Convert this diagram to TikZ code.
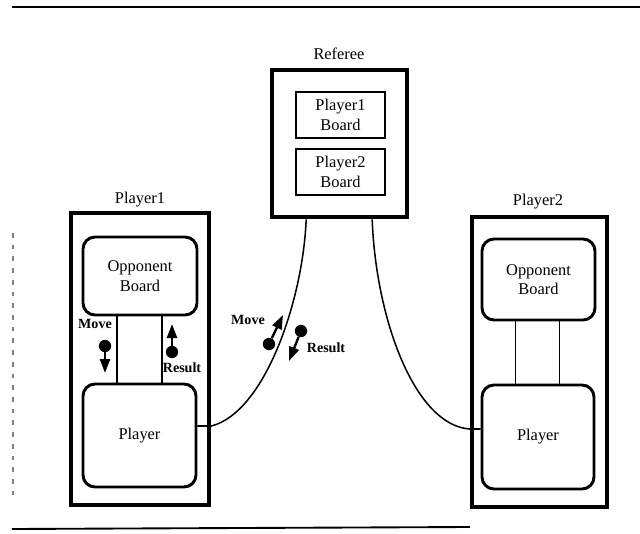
\documentclass[tikz,border=0pt]{standalone}
\usepackage{fontspec}
\setmainfont{Liberation Serif}
\usetikzlibrary{arrows.meta,positioning}

\begin{document}
\begin{tikzpicture}[
    x=0.03cm, y=-0.03cm,
    every node/.style={font=\fontsize{14}{16.5}\selectfont, inner sep=0pt, align=center},
    agent/.style={draw, line width=4.2pt, rectangle},
    board/.style={draw, line width=1.8pt, rectangle, minimum width=2.67cm, minimum height=1.38cm},
    part/.style={draw, line width=2.5pt, rectangle, rounded corners=0.36cm},
    tag/.style={font=\fontsize{12}{14}\selectfont\bfseries},
    token/.style={circle, fill, minimum size=0.37cm},
    msg/.style={line width=2pt, -{Triangle[length=0.42cm, width=0.3cm]}},
    link/.style={line width=1pt},
    wire/.style={line width=1.3pt},
    rule/.style={line width=1.6pt},
    scanmark/.style={line width=1pt, gray, dash pattern=on 4pt off 6pt}
]
\useasboundingbox (0,0) rectangle (640,534);

% page rules
\draw[rule] (12,7) -- (640,7);
\draw[rule] (12,529) -- (470,527);
\draw[scanmark] (13,233) -- (13,497);

% referee
\node[agent, minimum width=4.05cm, minimum height=4.41cm] (ref) at (339.5,143.5) {};
\node (reflbl) at (339,54) {Referee};
\node[board] (p1b) at (340.5,115) {Player1\\Board};
\node[board] (p2b) at (340.5,172) {Player2\\Board};

% player 1
\node[agent, minimum width=4.14cm, minimum height=8.76cm] (pl1) at (140,359) {};
\node (pl1lbl) at (140,200) {Player1};
\node[part, minimum width=3.42cm, minimum height=2.34cm] (ob1) at (140,276) {Opponent\\Board};
\node[part, minimum width=3.39cm, minimum height=3.09cm] (pp1) at (139.5,435.5) {Player};

% player 2
\node[agent, minimum width=4.05cm, minimum height=8.7cm] (pl2) at (539.5,362) {};
\node (pl2lbl) at (538,202) {Player2};
\node[part, minimum width=3.39cm, minimum height=2.43cm] (ob2) at (538.5,279.5) {Opponent\\Board};
\node[part, minimum width=3.36cm, minimum height=3.12cm] (pp2) at (538,437) {Player};

% board <-> player links
\coordinate (l1a) at ([xshift=-0.69cm]ob1.south);
\coordinate (l1b) at ([xshift=0.66cm]ob1.south);
\coordinate (l2a) at ([xshift=-0.7cm]ob2.south);
\coordinate (l2b) at ([xshift=0.62cm]ob2.south);
\draw[link] (l1a) -- (l1a |- pp1.north);
\draw[link] (l1b) -- (l1b |- pp1.north);
\draw[link] (l2a) -- (l2a |- pp2.north);
\draw[link] (l2b) -- (l2b |- pp2.north);

% referee <-> players
\coordinate (j1) at ([yshift=-2.01cm]pl1.east);
\coordinate (j2) at ([yshift=-2.01cm]pl2.west);
\coordinate (r1) at ([xshift=-1cm]ref.south);
\coordinate (r2) at ([xshift=0.98cm]ref.south);
\draw[wire] (pp1.east |- j1) -- (j1) .. controls (265,412) and (303,300) .. (r1);
\draw[wire] (r2) .. controls (376,320) and (415,425) .. (j2) -- (pp2.west |- j2);

% messages inside player 1
\node[tag] (mv1) at (95,324) {Move};
\node[token] (mv1dot) at (105,346) {};
\coordinate (mv1tip) at (105,373);
\draw[msg] (mv1dot) -- (mv1tip);
\node[tag] (rs1) at (182,368) {Result};
\node[token] (rs1dot) at (172,352) {};
\coordinate (rs1tip) at (172,324);
\draw[msg] (rs1dot) -- (rs1tip);

% messages on the referee wire
\node[tag] (mv) at (248,320) {Move};
\node[token] (mvdot) at (269,344) {};
\coordinate (mvtip) at (283,315);
\draw[msg] (mvdot) -- (mvtip);
\node[tag] (rs) at (326,348) {Result};
\node[token] (rsdot) at (301,331) {};
\coordinate (rstip) at (289,361);
\draw[msg] (rsdot) -- (rstip);
\end{tikzpicture}
\end{document}
